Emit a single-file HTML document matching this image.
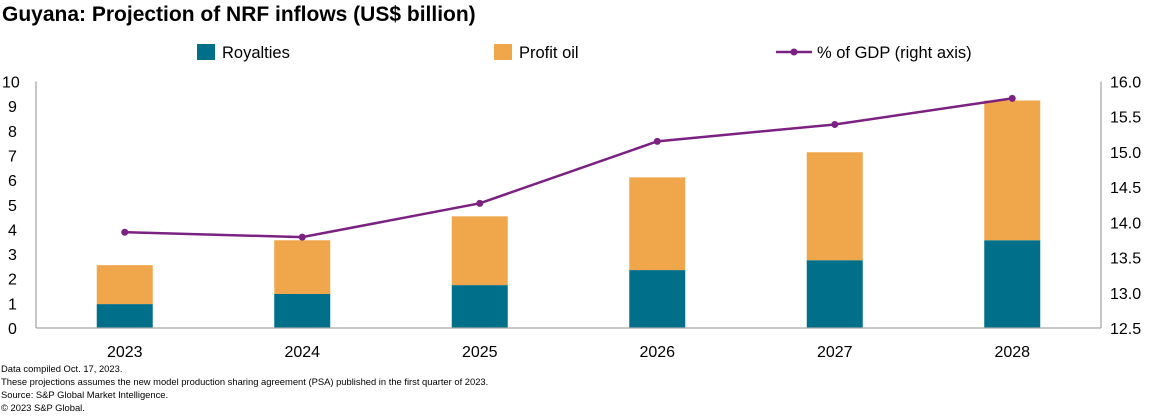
<!DOCTYPE html>
<html><head><meta charset="utf-8"><style>
body{margin:0;background:#fff;font-family:"Liberation Sans",Arial,sans-serif;}
svg{display:block}
</style></head><body>
<svg id="chart" width="1162" height="416" xmlns="http://www.w3.org/2000/svg" font-family="Liberation Sans, Arial, sans-serif">
<text x="2" y="21" font-size="21" font-weight="bold" fill="#000">Guyana: Projection of NRF inflows (US$ billion)</text>
<g>
<rect x="197" y="44" width="18" height="16" fill="#00708a"/>
<text x="222" y="58" font-size="16.5">Royalties</text>
<rect x="494" y="44" width="18" height="16" fill="#f0a64b"/>
<text x="519" y="58" font-size="16.5">Profit oil</text>
<line x1="776" y1="52" x2="812" y2="52" stroke="#7b2181" stroke-width="2.5"/>
<circle cx="794" cy="52" r="3.5" fill="#7b2181"/>
<text x="817" y="58" font-size="16.5">% of GDP (right axis)</text>
</g>
<g id="plot"></g>
<g font-size="9.4" fill="#000">
<text x="1" y="372">Data compiled Oct. 17, 2023.</text>
<text x="1" y="385">These projections assumes the new model production sharing agreement (PSA) published in the first quarter of 2023.</text>
<text x="1" y="398">Source: S&amp;P Global Market Intelligence.</text>
<text x="1" y="411">© 2023 S&amp;P Global.</text>
</g>
</svg>
<script>
const categories=["2023","2024","2025","2026","2027","2028"];
const royalties=[0.97,1.38,1.74,2.35,2.75,3.56];
const profitOil=[1.58,2.18,2.79,3.76,4.38,5.67];
const gdpShare=[13.86,13.79,14.27,15.15,15.39,15.76];
const leftTicks=[0,1,2,3,4,5,6,7,8,9,10];
const rightTicks=["12.5","13.0","13.5","14.0","14.5","15.0","15.5","16.0"];
const NS="http://www.w3.org/2000/svg";
const g=document.getElementById('plot');
const L=36,R=1101,T=81.5,B=328;
const yL=v=>B-(v/10)*(B-T);
const yR=v=>B-((v-12.5)/3.5)*(B-T);
const band=(R-L)/categories.length;
const xC=i=>L+band*(i+0.5);
const bw=56;
function mk(tag,attrs){const e=document.createElementNS(NS,tag);for(const k in attrs)e.setAttribute(k,attrs[k]);g.appendChild(e);return e;}
let e;
e=mk('line',{x1:L,y1:T,x2:L,y2:B,stroke:'#a6a6a6','stroke-width':1.3});


e=mk('line',{x1:R,y1:T,x2:R,y2:B,stroke:'#a6a6a6','stroke-width':1.3});


leftTicks.forEach(v=>{
 e=mk('text',{x:v==10?2:8,y:yL(v)+6,'font-size':16});
 e.textContent=v;
 
 
});
rightTicks.forEach(v=>{
 e=mk('text',{x:1110,y:yR(parseFloat(v))+6,'font-size':16});
 e.textContent=v;
 
 
});
categories.forEach((c,i)=>{
 const x=xC(i)-bw/2;
 e=mk('rect',{x:x,y:yL(royalties[i]),width:bw,height:B-yL(royalties[i]),fill:'#00708a'});
 
 
 const top=royalties[i]+profitOil[i];
 e=mk('rect',{x:x,y:yL(top),width:bw,height:yL(royalties[i])-yL(top),fill:'#f0a64b'});
 
 
 e=mk('text',{x:xC(i),y:357,'font-size':16,'text-anchor':'middle'});
 e.textContent=c;
 
 
});
e=mk('line',{x1:L,y1:B,x2:R,y2:B,stroke:'#a6a6a6','stroke-width':1.3});


e=mk('polyline',{points:gdpShare.map((v,i)=>xC(i)+','+yR(v)).join(' '),fill:'none',stroke:'#7b2181','stroke-width':2.5});


gdpShare.forEach((v,i)=>{
 e=mk('circle',{cx:xC(i),cy:yR(v),r:3.5,fill:'#7b2181'});
 
 
});
</script>
</body></html>
